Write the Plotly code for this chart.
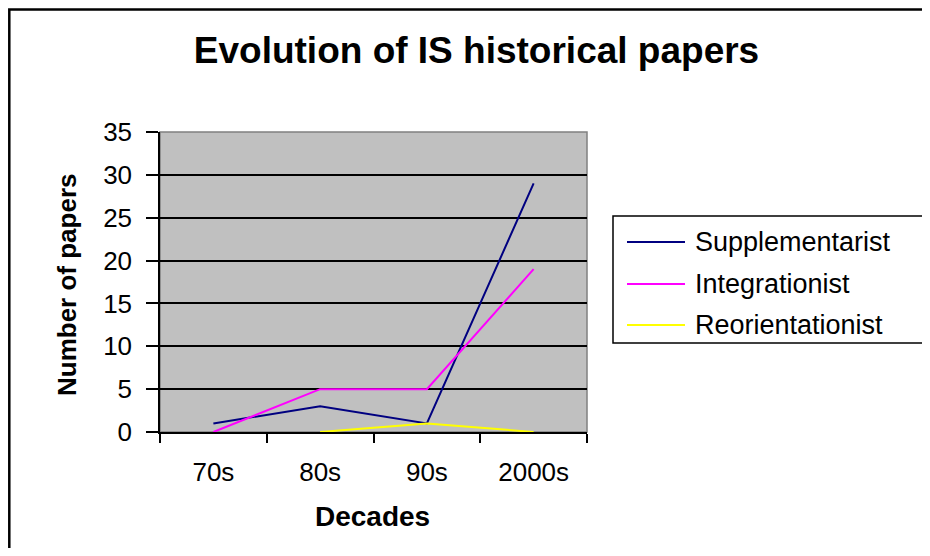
import plotly.graph_objects as go

# ---- data ----
decades = ["70s", "80s", "90s", "2000s"]
supplementarist = [1, 3, 1, 29]
integrationist = [0, 5, 5, 19]
reorientationist = [None, 0, 1, 0]
series_names = ["Supplementarist", "Integrationist", "Reorientationist"]
series_colors = ["#000080", "#FF00FF", "#FFFF00"]
y_ticks = [0, 5, 10, 15, 20, 25, 30, 35]

# page body has an 8px margin; work in screen coordinates and shift
OFF = 8
W, H = 930 - 2 * OFF, 556 - 2 * OFF
PLOT_L, PLOT_R, PLOT_T, PLOT_B = 160, 587, 132, 432  # screen px
L = PLOT_L - OFF
T = PLOT_T - OFF
R = W - (PLOT_R - OFF)
B = H - (PLOT_B - OFF)
PW, PH = PLOT_R - PLOT_L, PLOT_B - PLOT_T
FONT = "Arial, Liberation Sans, sans-serif"


def px(x):
    return (x - PLOT_L) / PW


def py(y):
    return (PLOT_B - y) / PH


fig = go.Figure()
for name, vals, col in zip(series_names, [supplementarist, integrationist, reorientationist], series_colors):
    fig.add_trace(go.Scatter(x=decades, y=vals, mode="lines", name=name,
                             line=dict(color=col, width=2), connectgaps=False,
                             showlegend=False))

shapes = [
    # plot area border
    dict(type="rect", xref="paper", yref="paper", x0=0, x1=1, y0=0, y1=1,
         line=dict(color="#808080", width=1.5), layer="below"),
    # outer chart border
    dict(type="rect", xref="paper", yref="paper", x0=px(9.3), x1=px(990), y0=py(9.5), y1=py(620),
         line=dict(color="black", width=2.5)),
    # legend box
    dict(type="rect", xref="paper", yref="paper", x0=px(613), x1=px(990), y0=py(216), y1=py(343),
         line=dict(color="black", width=1.5), fillcolor="white"),
]
annotations = []
rows = [242, 284, 325]
for name, col, ry in zip(series_names, series_colors, rows):
    shapes.append(dict(type="line", xref="paper", yref="paper", x0=px(627), x1=px(685),
                       y0=py(ry), y1=py(ry), line=dict(color=col, width=2)))
    annotations.append(dict(text=name, xref="paper", yref="paper", x=px(693), y=py(ry),
                            xanchor="left", yanchor="middle", showarrow=False,
                            font=dict(family=FONT, size=27, color="black")))

annotations.append(dict(text="<b>Decades</b>", xref="paper", yref="paper", x=px(372.5), y=py(517),
                        xanchor="center", yanchor="middle", showarrow=False,
                        font=dict(family=FONT, size=28, color="black")))
annotations.append(dict(text="<b>Number of papers</b>", xref="paper", yref="paper", x=px(67), y=py(285),
                        xanchor="center", yanchor="middle", showarrow=False, textangle=-90,
                        font=dict(family=FONT, size=26, color="black")))

fig.update_layout(
    width=W, height=H,
    margin=dict(l=L, r=R, t=T, b=B, pad=0),
    paper_bgcolor="white", plot_bgcolor="#C0C0C0",
    title=dict(text="<b>Evolution of IS historical papers</b>", x=(476.5 - OFF) / W, xref="container",
               xanchor="center", y=1 - (50 - OFF) / H, yref="container", yanchor="middle",
               font=dict(family=FONT, size=37, color="black")),
    shapes=shapes, annotations=annotations,
    showlegend=False,
)
fig.update_xaxes(type="category", categoryorder="array", categoryarray=decades,
                 range=[-0.5, 3.5], tickson="boundaries", ticks="outside", ticklen=9,
                 tickcolor="black", tickwidth=1.5, showline=True, linecolor="black", linewidth=2,
                 showgrid=False, zeroline=False, ticklabelstandoff=16,
                 tickfont=dict(family=FONT, size=26, color="black"))
fig.update_yaxes(range=[0, 35], tickvals=y_ticks, ticks="outside", ticklen=12,
                 tickcolor="black", tickwidth=1.5, showline=True, linecolor="black", linewidth=1.5,
                 showgrid=True, gridcolor="black", gridwidth=1.5, zeroline=False,
                 ticklabelstandoff=9,
                 tickfont=dict(family=FONT, size=26, color="black"))

fig.write_html("out.html")
